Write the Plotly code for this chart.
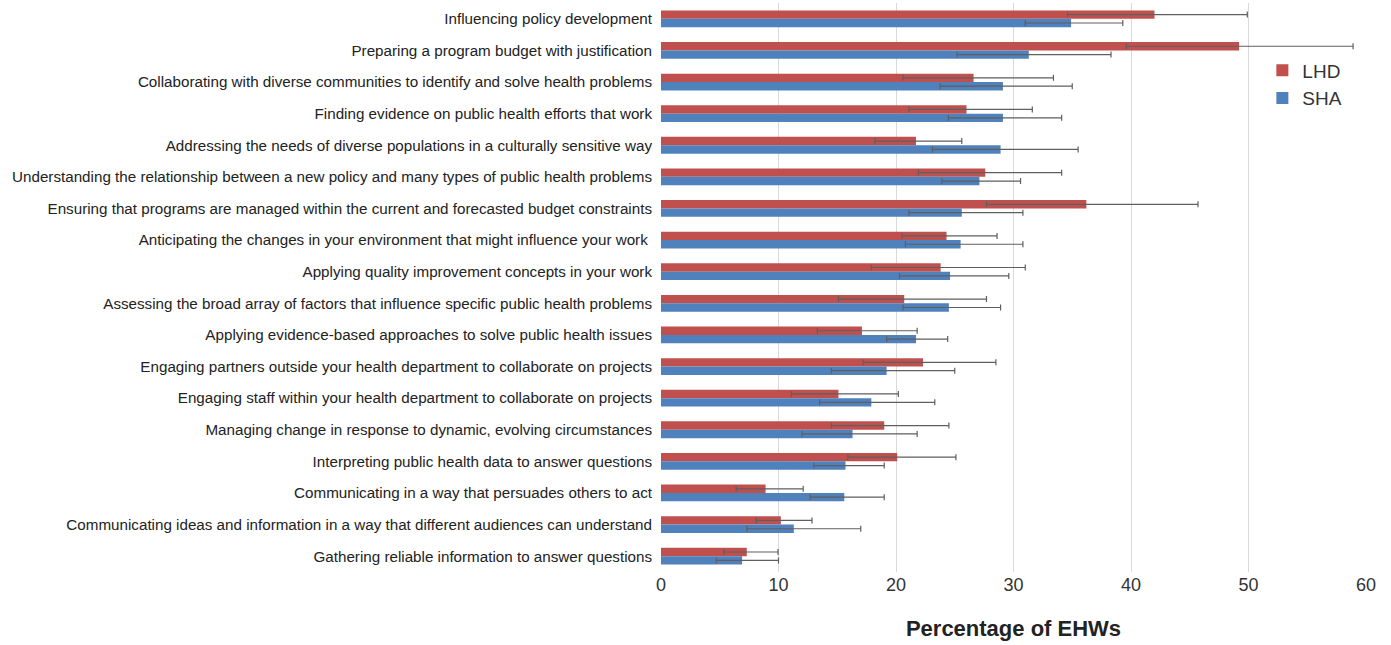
import plotly.graph_objects as go

# Competencies, listed top to bottom
categories = [
    "Influencing policy development",
    "Preparing a program budget with justification",
    "Collaborating with diverse communities to identify and solve health problems",
    "Finding evidence on public health efforts that work",
    "Addressing the needs of diverse populations in a culturally sensitive way",
    "Understanding the relationship between a new policy and many types of public health problems",
    "Ensuring that programs are managed within the current and forecasted budget constraints",
    "Anticipating the changes in your environment that might influence your work ",
    "Applying quality improvement concepts in your work",
    "Assessing the broad array of factors that influence specific public health problems",
    "Applying evidence-based approaches to solve public health issues",
    "Engaging partners outside your health department to collaborate on projects",
    "Engaging staff within your health department to collaborate on projects",
    "Managing change in response to dynamic, evolving circumstances",
    "Interpreting public health data to answer questions",
    "Communicating in a way that persuades others to act",
    "Communicating ideas and information in a way that different audiences can understand",
    "Gathering reliable information to answer questions",
]

# Local health departments: estimate, lower bound, upper bound (%)
lhd_value = [42.0, 49.2, 26.6, 26.0, 21.7, 27.6, 36.2, 24.3, 23.8, 20.7,
             17.1, 22.3, 15.1, 19.0, 20.1, 8.9, 10.2, 7.3]
lhd_low = [34.6, 39.6, 20.6, 21.1, 18.2, 21.9, 27.7, 20.5, 17.9, 15.1,
           13.3, 17.2, 11.1, 14.5, 15.9, 6.4, 8.1, 5.35]
lhd_high = [49.9, 58.9, 33.4, 31.6, 25.6, 34.1, 45.7, 28.6, 31.0, 27.7,
            21.8, 28.5, 20.2, 24.5, 25.1, 12.1, 12.85, 9.96]

# State health agencies: estimate, lower bound, upper bound (%)
sha_value = [34.9, 31.3, 29.1, 29.1, 28.9, 27.1, 25.6, 25.5, 24.6, 24.5,
             21.7, 19.2, 17.9, 16.3, 15.7, 15.6, 11.3, 6.9]
sha_low = [31.0, 25.2, 23.75, 24.45, 23.1, 23.9, 21.1, 20.8, 20.3, 20.6,
           19.2, 14.5, 13.5, 12.0, 13.0, 12.7, 7.3, 4.7]
sha_high = [39.3, 38.3, 35.0, 34.1, 35.5, 30.6, 30.8, 30.8, 29.6, 28.9,
            24.4, 25.0, 23.3, 21.8, 19.0, 19.0, 17.0, 10.0]

x_ticks = [0, 10, 20, 30, 40, 50, 60]

FONT = "Arial, Liberation Sans, sans-serif"
ERR_COLOR = "#5f5f5f"


def err(vals, lows, highs):
    return dict(
        type="data",
        symmetric=False,
        array=[h - v for v, h in zip(vals, highs)],
        arrayminus=[v - l for v, l in zip(vals, lows)],
        color=ERR_COLOR,
        thickness=1.2,
        width=3,
    )


fig = go.Figure()
fig.add_trace(go.Bar(
    name="LHD", y=categories, x=lhd_value, orientation="h",
    marker=dict(color="#C0504D", line=dict(width=0)),
    error_x=err(lhd_value, lhd_low, lhd_high),
))
fig.add_trace(go.Bar(
    name="SHA", y=categories, x=sha_value, orientation="h",
    marker=dict(color="#4F81BD", line=dict(width=0)),
    error_x=err(sha_value, sha_low, sha_high),
))

fig.update_layout(
    width=1391, height=645,
    margin=dict(l=661, r=25, t=3, b=73),
    barmode="group",
    bargap=0.47,
    bargroupgap=0,
    plot_bgcolor="white",
    paper_bgcolor="white",
    font=dict(family=FONT, color="#222222"),
    legend=dict(
        x=0.853, y=0.915, xanchor="left", yanchor="top",
        bgcolor="rgba(0,0,0,0)",
        font=dict(size=19, color="#333333", family=FONT),
        itemwidth=30,
        tracegroupgap=0,
    ),
    xaxis=dict(
        range=[0, 60],
        tickvals=x_ticks,
        showgrid=True, gridcolor="#d9d9d9", gridwidth=1,
        zeroline=False,
        showline=False,
        ticks="",
        tickfont=dict(size=18, color="#333333", family=FONT),
        title=dict(text="<b>Percentage of EHWs</b>",
                   font=dict(size=22, color="#222222", family=FONT),
                   standoff=26),
    ),
    yaxis=dict(
        autorange="reversed",
        showgrid=False,
        ticks="",
        ticklabelstandoff=8,
        tickfont=dict(size=15.2, color="#222222", family=FONT),
    ),
)

fig.write_html("out.html")
